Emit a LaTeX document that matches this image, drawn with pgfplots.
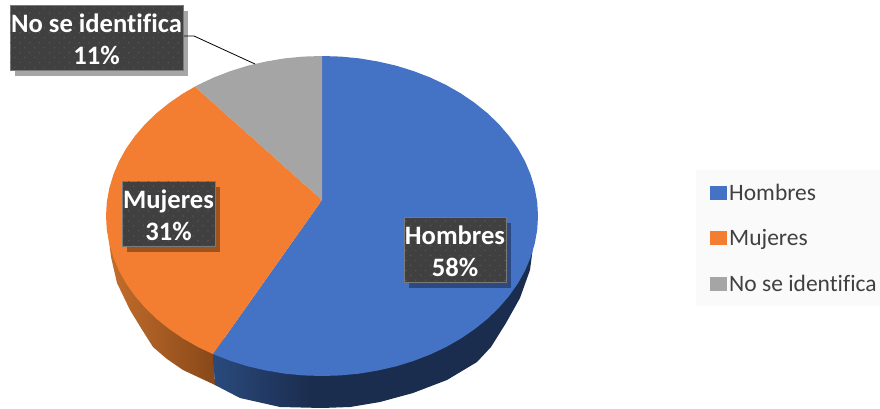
\documentclass[border=0pt]{standalone}
\usepackage{pgfplots}
\pgfplotsset{compat=1.18}
\usepackage{fontspec}
\setmainfont{Carlito}[Ligatures=NoCommon]
\usetikzlibrary{patterns.meta}
\definecolor{cblue}{HTML}{4472C4}
\definecolor{corange}{HTML}{F37E32}
\definecolor{cgrey}{HTML}{A5A5A5}
\definecolor{boxc}{HTML}{404040}
\definecolor{dotc}{HTML}{565656}
\definecolor{txtc}{HTML}{404040}
\definecolor{legbg}{HTML}{FAFAFA}
\definecolor{bsA}{HTML}{2A4A7C}
\definecolor{bsB}{HTML}{1B2D4F}
\definecolor{osA}{HTML}{C46E2C}
\definecolor{osB}{HTML}{884819}
\definecolor{boxedge}{HTML}{7A7A7A}
\pgfdeclarehorizontalshading{blueside}{100bp}{color(0bp)=(bsA);color(25bp)=(bsA);color(40bp)=(bsB);color(100bp)=(bsB)}
\pgfdeclarehorizontalshading{orangeside}{100bp}{color(0bp)=(osA);color(25bp)=(osA);color(75bp)=(osB);color(100bp)=(osB)}
\tikzset{
  lab/.style={anchor=center,inner sep=0pt,outer sep=0pt,
    fill=boxc,draw=boxedge,line width=0.4pt,
    postaction={pattern={Dots[distance=7pt,radius=0.9pt,angle=45]},pattern color=dotc}},
  labt/.style={anchor=center,text=white,align=center,inner sep=0pt,outer sep=0pt,
    font=\fontsize{26.6}{32}\selectfont\bfseries},
  shad/.style={fill=black,opacity=0.35,draw=none},
}
\begin{document}
\begin{tikzpicture}
\useasboundingbox (0,0) rectangle (880pt,409pt);
\begin{axis}[
  at={(0,0)},anchor=south west,
  scale only axis,width=880pt,height=409pt,
  xmin=0,xmax=880,ymin=0,ymax=409,y dir=reverse,
  hide axis,clip=false,
  legend style={at={(axis cs:710,181.5)},anchor=north west,draw=none,fill=none,
    font=\fontsize{23.5}{26}\selectfont,text=txtc,inner sep=0pt,row sep=24pt,
    /tikz/every even column/.append style={column sep=0pt}},
  legend cell align=left,
  legend image code/.code={\path (0pt,-7pt) rectangle (17pt,7pt);\fill[#1,draw=none] (0pt,-7pt) rectangle (14pt,7pt);},
]
% legend panel
\fill[legbg] (axis cs:696,170) rectangle (axis cs:880,306);
% side walls
\addplot[forget plot,draw=none,shading=orangeside] coordinates {
 (107,225) (111,257) (117,283) (130,310) (141,328) (153,347) (167,359) (183,370) (215,385) (213,340) (150,250) (107,225)};
\addplot[forget plot,draw=none,shading=blueside] coordinates {
 (213,354) (215,385) (240,398) (280,407) (322,408) (350,407) (380,402) (413,393) (447,380) (477,362) (491,347) (506,323) (520,298) (530,270) (533,247) (537,225) (450,300) (213,340) (213,354)};
% top faces
\addplot[fill=cblue,draw=none] coordinates {
 (322,56) (340.8,56.6) (359.5,58.4) (377.9,61.5) (395.9,65.6) (413.3,71) (430,77.4) (445.9,84.9) (460.8,93.4) (474.7,102.9) (487.5,113.2) (498.9,124.2) (509,136) (517.8,148.4) (525,161.3) (530.6,174.6) (534.7,188.2) (537.2,202) (538,216) (537.2,230) (534.7,243.8) (530.6,257.4) (525,270.7) (517.8,283.6) (509,296) (498.9,307.8) (487.5,318.8) (474.7,329.1) (460.8,338.6) (445.9,347.1) (430,354.6) (413.3,361) (395.9,366.4) (377.9,370.5) (359.5,373.6) (340.8,375.4) (322,376) (303.2,375.4) (284.5,373.6) (266.1,370.5) (248.1,366.4) (230.7,361) (213,354.1) (322,200) (322,56)};
\addlegendentry{Hombres}
\addplot[fill=corange,draw=none] coordinates {
 (322,200) (213,354.1) (198.1,347.1) (183.2,338.6) (169.3,329.1) (156.5,318.8) (145.1,307.8) (135,296) (126.2,283.6) (119,270.7) (113.4,257.4) (109.3,243.8) (106.8,230) (106,216) (106.8,202) (109.3,188.2) (113.4,174.6) (119,161.3) (126.2,148.4) (135,136) (145.1,124.2) (156.5,113.2) (169.3,102.9) (183.2,93.4) (195,86.6) (322,200)};
\addlegendentry{Mujeres}
\addplot[fill=cgrey,draw=none] coordinates {
 (322,200) (195,86.6) (198.1,84.9) (214,77.4) (230.7,71) (248.1,65.6) (266.1,61.5) (284.5,58.4) (303.2,56.6) (322,56) (322,200)};
\addlegendentry{No se identifica}
% leader line
\addplot[forget plot,black,line width=0.8pt] coordinates {(183,36) (194,36) (255,64)};
% label boxes
\fill[shad] (axis cs:15,11) rectangle (axis cs:188,76);
\fill[shad] (axis cs:127,187) rectangle (axis cs:220,252);
\fill[shad] (axis cs:409,223) rectangle (axis cs:511,288);
\node[lab,minimum width=173pt,minimum height=65pt] at (axis cs:96.5,37.5) {};
\node[lab,minimum width=93pt,minimum height=65pt] at (axis cs:168.5,213.5) {};
\node[lab,minimum width=102pt,minimum height=65pt] at (axis cs:455,249.5) {};
\node[labt] at (axis cs:96.5,39) {No se identifica\\11\%};
\node[labt] at (axis cs:168.5,215) {Mujeres\\31\%};
\node[labt] at (axis cs:455,251) {Hombres\\58\%};
\end{axis}
\end{tikzpicture}
\end{document}
